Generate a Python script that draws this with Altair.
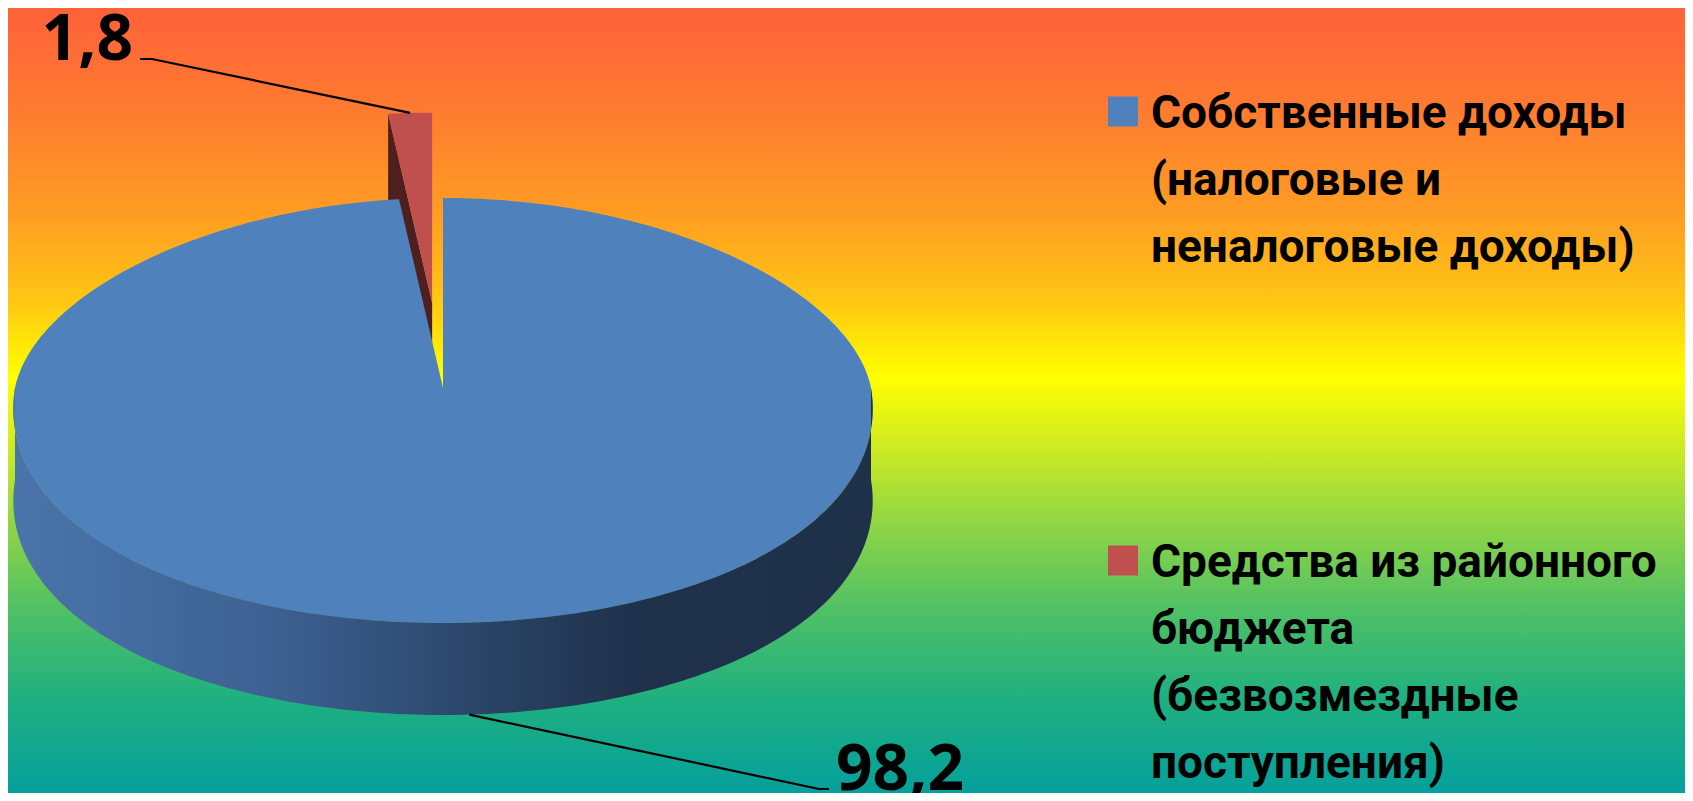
import altair as alt
import numpy as np
import pandas as pd

# ---------------- data ----------------
categories = [
    "Собственные доходы (налоговые и неналоговые доходы)",
    "Средства из районного бюджета (безвозмездные поступления)",
]
values = [98.2, 1.8]
legend_lines = [
    ["Собственные доходы", "(налоговые и", "неналоговые доходы)"],
    ["Средства из районного", "бюджета", "(безвозмездные", "поступления)"],
]
top_colors = ["#4F81BD", "#C0504D"]
face_colors = ["#22324F", "#4E1F1F"]
explode = [0.0, 0.45]

# ---------------- layout (reference pixel space) ----------------
W, H = 1677, 785
X0, Y0 = 8, 8
CX, CY = 443, 388
RX, RY_TOP, RY_BOT = 428, 190, 235
PERSP = 0.09
DEPTH = 92
label_pos = [(836, 790), (133, 60)]
label_align = ["left", "right"]
elbows = [[(819, 789), (829, 789)], [(152, 59), (140, 59)]]

total = sum(values)
cum = np.concatenate([[0.0], np.cumsum(values)]) / total * 360.0


def ry_of(t):
    return np.where(np.cos(t) >= 0, RY_TOP, RY_BOT)


def rim(deg, ox, oy, dz=0.0):
    t = np.radians(np.asarray(deg, dtype=float))
    x = CX + ox + RX * np.sin(t) * (1 - PERSP * np.cos(t))
    y = CY + oy - ry_of(t) * np.cos(t) + dz
    return x, y


rows = []


def add_poly(name, k, xs, ys):
    for i, (x, y) in enumerate(zip(xs, ys)):
        rows.append(dict(poly=name, cat=categories[k], fc=face_colors[k],
                         i=i, px=float(x), py=float(y)))


lead_rows = []
text_rows = []
for k, cat in enumerate(categories):
    a0, a1 = cum[k], cum[k + 1]
    mid = np.radians((a0 + a1) / 2)
    ox = explode[k] * RX * np.sin(mid)
    oy = -explode[k] * float(ry_of(mid)) * np.cos(mid)
    n = max(4, int(a1 - a0) + 2)
    arc = np.linspace(a0, a1, n)
    xs, ys = rim(arc, ox, oy)
    add_poly(f"top{k}", k, np.r_[CX + ox, xs], np.r_[CY + oy, ys])
    lo, hi = max(a0, 90.0), min(a1, 270.0)
    if lo < hi:
        arc = np.linspace(lo, hi, int(hi - lo) + 2)
        xt, yt = rim(arc, ox, oy)
        xb, yb = rim(arc[::-1], ox, oy, DEPTH)
        add_poly(f"side{k}", k, np.r_[xt, xb], np.r_[yt, yb])
    for j, (ang, sgn) in enumerate(((a0, -1), (a1, 1))):
        if sgn * np.sin(np.radians(ang)) > 1e-9:
            rx_, ry_ = rim([ang], ox, oy)
            add_poly(f"face{k}_{j}", k,
                     [CX + ox, rx_[0], rx_[0], CX + ox],
                     [CY + oy, ry_[0], ry_[0] + DEPTH, CY + oy + DEPTH])
    # leader line
    front = np.cos(mid) < 0
    sx, sy = rim([np.degrees(mid)], ox, oy, DEPTH if front else 0.0)
    pts = [(sx[0], sy[0])] + elbows[k]
    for i, (x, y) in enumerate(pts):
        lead_rows.append(dict(k=k, i=i, px=float(x), py=float(y)))
    text_rows.append(dict(px=label_pos[k][0], py=label_pos[k][1],
                          text=f"{values[k]:.1f}".replace(".", ","),
                          align=label_align[k]))

poly_df = pd.DataFrame(rows)
lead_df = pd.DataFrame(lead_rows)
text_df = pd.DataFrame(text_rows)

xsc = alt.Scale(domain=[X0, X0 + W], nice=False, zero=False)
ysc = alt.Scale(domain=[Y0, Y0 + H], nice=False, zero=False, reverse=True)
X = alt.X("px:Q", scale=xsc, axis=None)
Y = alt.Y("py:Q", scale=ysc, axis=None)

bg_grad = alt.LinearGradient(
    gradient="linear", x1=0, x2=0, y1=0, y2=1,
    stops=[
        alt.GradientStop(offset=0.0, color="#FF6139"),
        alt.GradientStop(offset=0.13, color="#FF7B30"),
        alt.GradientStop(offset=0.26, color="#FF9C23"),
        alt.GradientStop(offset=0.37, color="#FFC514"),
        alt.GradientStop(offset=0.47, color="#FFFF00"),
        alt.GradientStop(offset=0.56, color="#CDEB22"),
        alt.GradientStop(offset=0.66, color="#8ED545"),
        alt.GradientStop(offset=0.77, color="#4EC066"),
        alt.GradientStop(offset=0.88, color="#1FB080"),
        alt.GradientStop(offset=1.0, color="#05A09C"),
    ],
)
side_grad = alt.LinearGradient(
    gradient="linear", x1=0, x2=1, y1=0, y2=0,
    stops=[
        alt.GradientStop(offset=0.0, color="#4A75AB"),
        alt.GradientStop(offset=0.3, color="#3D6192"),
        alt.GradientStop(offset=0.55, color="#2A4466"),
        alt.GradientStop(offset=0.72, color="#20314C"),
        alt.GradientStop(offset=1.0, color="#1F3049"),
    ],
)

bg = alt.Chart(alt.Data(values=[{"a": 1}])).mark_rect(fill=bg_grad).encode(
    x=alt.value(0), x2=alt.value(W), y=alt.value(0), y2=alt.value(H)
)

base = alt.Chart(poly_df)
order = alt.Order("i:Q")

faces = base.transform_filter("indexof(datum.poly, 'face') == 0").mark_line(
    filled=True
).encode(X, Y, order=order, detail="poly:N", color=alt.Color("fc:N", scale=None))

label_expr = "datum.label == '{}' ? [{}] : [{}]".format(
    categories[0],
    ",".join("'{}'".format(s) for s in legend_lines[0]),
    ",".join("'{}'".format(s) for s in legend_lines[1]),
)

tops = base.transform_filter("indexof(datum.poly, 'top') == 0").mark_line(
    filled=True
).encode(
    X, Y, order=order, detail="poly:N",
    color=alt.Color(
        "cat:N",
        scale=alt.Scale(domain=categories, range=top_colors),
        legend=alt.Legend(
            title=None, orient="none", legendX=1092, legendY=61,
            direction="vertical", padding=0,
            symbolType="M-1,0.3L1,0.3L1,2.3L-1,2.3Z", symbolSize=900,
            symbolStrokeWidth=0, symbolOpacity=1,
            labelFont="Roboto", labelFontSize=46, labelFontWeight="bold",
            labelColor="black", labelLimit=2000, labelOffset=5,
            labelBaseline="top", rowPadding=247, labelExpr=label_expr,
        ),
    ),
)

sides = base.transform_filter("indexof(datum.poly, 'side') == 0").mark_line(
    filled=True, fill=side_grad
).encode(X, Y, order=order, detail="poly:N")

leaders = alt.Chart(lead_df).mark_line(color="black", strokeWidth=2.2).encode(
    X, Y, order=order, detail="k:N"
)

txt_kw = dict(font="Open Sans", fontSize=64, fontWeight="bold", color="black",
              baseline="alphabetic")
tleft = alt.Chart(text_df).transform_filter("datum.align == 'left'").mark_text(
    align="left", **txt_kw).encode(X, Y, text="text:N")
tright = alt.Chart(text_df).transform_filter("datum.align == 'right'").mark_text(
    align="right", **txt_kw).encode(X, Y, text="text:N")

chart = alt.layer(bg, faces, tops, sides, leaders, tleft, tright).properties(
    width=W, height=H, padding=0,
    autosize=alt.AutoSizeParams(type="none"),
    background="white",
).configure(
    font="Open Sans",
    style={"guide-label": {"lineHeight": 67}},
    view=alt.ViewConfig(strokeWidth=0),
)

chart.save("out.html", embed_options={"renderer": "svg", "actions": False})
